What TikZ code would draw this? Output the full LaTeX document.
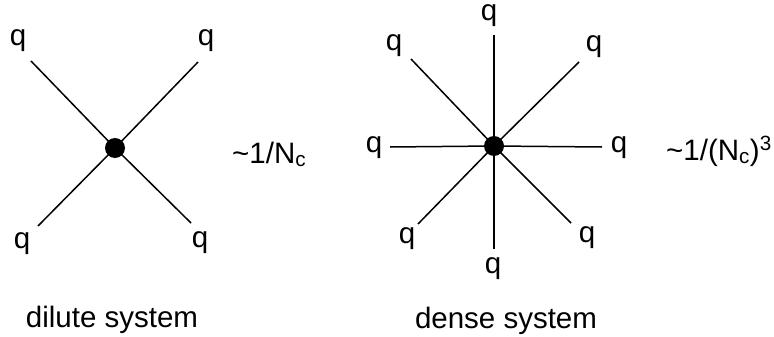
\documentclass[tikz,border=0pt]{standalone}
\usepackage{fontspec}
\setmainfont{Liberation Sans}
\begin{document}
\begin{tikzpicture}[x=1pt,y=-1pt,
  lbl/.style={inner sep=0pt,font=\fontsize{29.5}{34}\selectfont},
  leg/.style={line width=1.5pt,line cap=butt},
  vtx/.style={circle,fill=black,inner sep=0pt,minimum size=20pt}]
\useasboundingbox (0,0) rectangle (774,337);
% ---- dilute system ----
\coordinate (c1) at (115,148);
\coordinate (a1) at (31,61);
\coordinate (a2) at (198,62);
\coordinate (a3) at (38,226);
\coordinate (a4) at (191,223);
\foreach \p in {a1,a2,a3,a4} \draw[leg] (\p) -- (c1);
\node[vtx] (d1) at (c1) {};
\node[lbl] (q1) at (18,41) {q};
\node[lbl] (q2) at (206,41) {q};
\node[lbl] (q3) at (22,244) {q};
\node[lbl] (q4) at (200,243) {q};
\node[lbl,anchor=base west] (f1) at (232,163) {\textasciitilde 1/N\textsubscript{c}};
\node[lbl,anchor=base] (t1) at (112,327) {dilute system};
% ---- dense system ----
\coordinate (c2) at (494,146);
\coordinate (b1) at (494,35);
\coordinate (b2) at (494,249);
\coordinate (b3) at (390,147);
\coordinate (b4) at (602,147);
\coordinate (b5) at (411,59);
\coordinate (b6) at (571,223);
\coordinate (b7) at (579,62);
\coordinate (b8) at (418,224);
\foreach \p in {b1,b2,b3,b4,b5,b6,b7,b8} \draw[leg] (\p) -- (c2);
\node[vtx] (d2) at (c2) {};
\node[lbl] (r1) at (489,16) {q};
\node[lbl] (r2) at (394,46) {q};
\node[lbl] (r3) at (594,47) {q};
\node[lbl] (r4) at (374,148) {q};
\node[lbl] (r5) at (619,148) {q};
\node[lbl] (r6) at (407,239) {q};
\node[lbl] (r7) at (493,269) {q};
\node[lbl] (r8) at (587,238) {q};
\node[lbl,anchor=base west] (f2) at (666,160) {\textasciitilde 1/(N\textsubscript{c})\textsuperscript{3}};
\node[lbl,anchor=base] (t2) at (506,328) {dense system};
\end{tikzpicture}
\end{document}
